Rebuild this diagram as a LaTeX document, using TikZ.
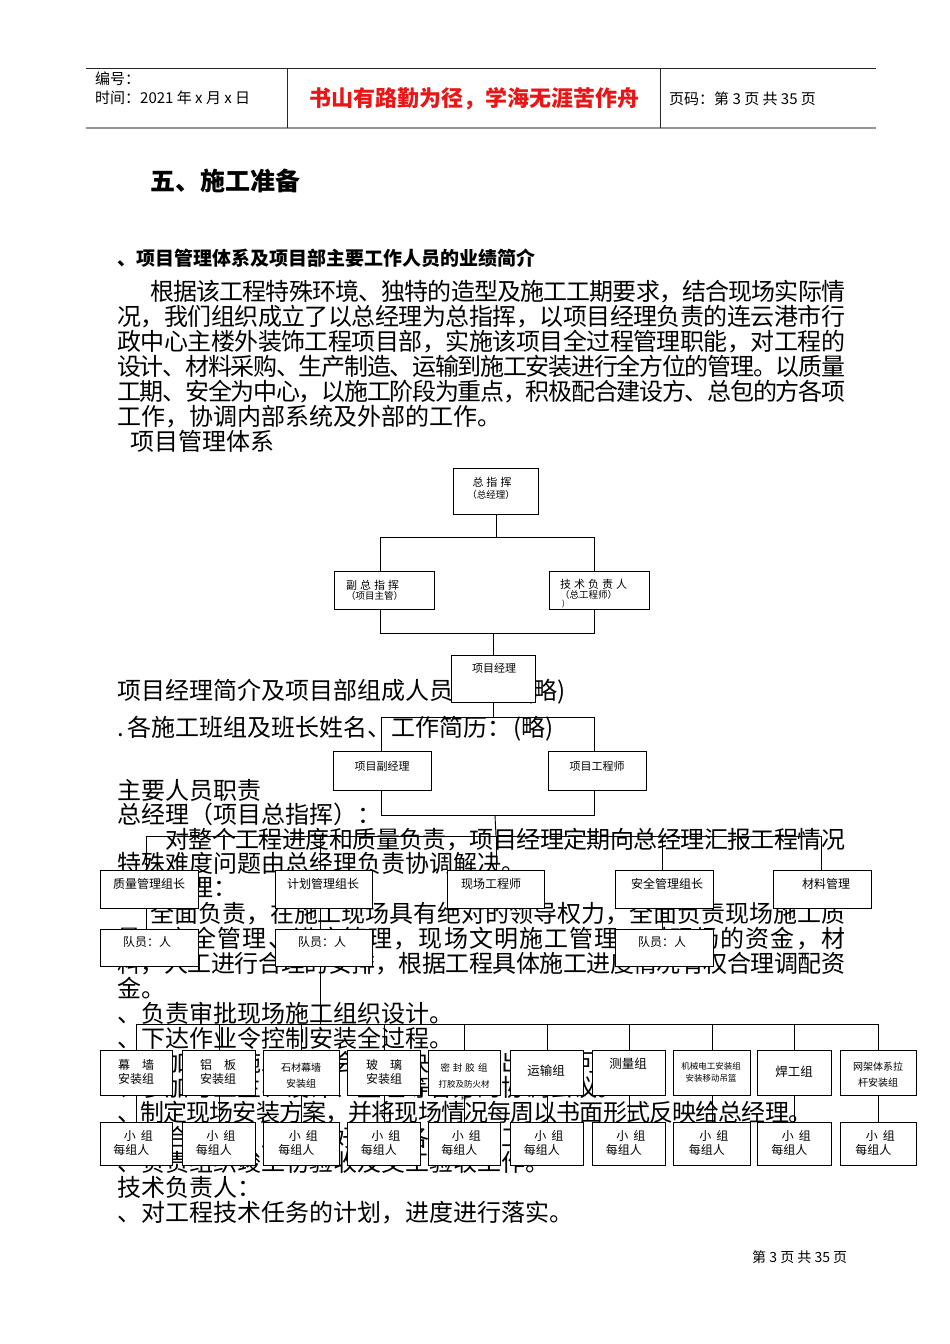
\documentclass[tikz,border=0pt]{standalone}
\usepackage{fontspec}
\setmainfont{Noto Sans CJK SC}
\definecolor{sred}{RGB}{232,22,22}
\definecolor{hgray}{RGB}{150,150,150}
\pgfdeclarelayer{textlayer}
\pgfdeclarelayer{linelayer}
\pgfsetlayers{textlayer,linelayer,main}
\makeatletter
\newcommand\jl[2]{\makebox[#1][s]{\let\jsep\relax\@tfor\jc:=#2\do{\jsep\jc\def\jsep{\hskip 0pt plus 1fil minus 2pt}}}}
\makeatother
\newcommand\fs[1]{\fontsize{#1}{#1}\selectfont}
\begin{document}
\begin{tikzpicture}[x=1pt,y=-1pt,
  box/.style={draw=black, fill=white, line width=0.9pt, inner sep=0pt, anchor=north west},
  ln/.style={draw=black, line width=0.9pt},
  bt/.style={inner sep=0pt, font=\fs{12}},
  tx/.style={inner sep=0pt, anchor=base west, font=\fs{24}},
  ht/.style={inner sep=0pt, anchor=base west, font=\fs{15}}]
\useasboundingbox (0,0) rectangle (950,1344);

% ---------- body text (behind the chart) ----------
\begin{pgfonlayer}{textlayer}
\fill[white] (0,0) rectangle (950,1344);
\node[tx, font=\bfseries\fs{25}] (title) at (150,190) {五、施工准备};
\node[tx, font=\bfseries\fs{19}] (head) at (117,265) {、项目管理体系及项目部主要工作人员的业绩简介};
\node[tx] (t01) at (150,300) {\jl{695pt}{根据该工程特殊环境、独特的造型及施工工期要求，结合现场实际情}};
\node[tx] (t02) at (117,325) {\jl{728pt}{况，我们组织成立了以总经理为总指挥，以项目经理负责的连云港市行}};
\node[tx] (t03) at (117,350) {\jl{728pt}{政中心主楼外装饰工程项目部，实施该项目全过程管理职能，对工程的}};
\node[tx] (t04) at (117,375) {\jl{728pt}{设计、材料采购、生产制造、运输到施工安装进行全方位的管理。以质量}};
\node[tx] (t05) at (117,400) {\jl{728pt}{工期、安全为中心，以施工阶段为重点，积极配合建设方、总包的方各项}};
\node[tx] (t06) at (117,425) {工作，协调内部系统及外部的工作。};
\node[tx] (t07) at (130,450) {项目管理体系};
\node[tx] (t08) at (117,699) {项目经理简介及项目部组成人员：\hspace{48pt}(略)};
\node[tx] (t09) at (117,736) {.\hspace{4pt}各施工班组及班长姓名、工作简历：\hspace{2pt}(略)};
\node[tx] (t10) at (117,799) {主要人员职责};
\node[tx] (t11) at (117,823) {总经理（项目总指挥）：};
\node[tx] (t12) at (165,848) {\jl{680pt}{对整个工程进度和质量负责，项目经理定期向总经理汇报工程情况}};
\node[tx] (t13) at (117,872) {特殊难度问题由总经理负责协调解决。};
\node[tx] (t14) at (117,896) {项目经理：};
\node[tx] (t15) at (150,922) {\jl{695pt}{全面负责，在施工现场具有绝对的领导权力，全面负责现场施工质}};
\node[tx] (t16) at (117,947) {\jl{728pt}{量、安全管理、进度管理，现场文明施工管理，对现场的资金，材}};
\node[tx] (t17) at (117,972) {\jl{728pt}{料，人工进行合理的安排，根据工程具体施工进度情况有权合理调配资}};
\node[tx] (t18) at (117,997) {金。};
\node[tx] (t19) at (117,1022) {、负责审批现场施工组织设计。};
\node[tx] (t20) at (117,1047) {、下达作业令控制安装全过程。};
\node[tx] (t21) at (117,1071) {、参加工程施工协调会，解决施工中出现的问题。};
\node[tx] (t22) at (117,1096) {、参加与业主、设计、监理等各方的协调会议。};
\node[tx] (t23) at (117,1121) {\jl{695pt}{、制定现场安装方案，并将现场情况每周以书面形式反映给总经理。}};
\node[tx] (t24) at (117,1146) {、配合业主、监理做好工程各项检查工作。};
\node[tx] (t25) at (117,1171) {、负责组织竣工初验收及交工验收工作。};
\node[tx] (t26) at (117,1196) {技术负责人：};
\node[tx] (t27) at (117,1221) {、对工程技术任务的计划，进度进行落实。};
\end{pgfonlayer}

% ---------- header ----------
\coordinate (hl) at (86,68); \coordinate (hr) at (876,68);
\coordinate (bl) at (86,128); \coordinate (br) at (876,128);
\coordinate (v1) at (287,68); \coordinate (v2) at (660,68);
\draw[line width=0.9pt, black!85] (hl) -- (hr);
\draw[line width=2pt, hgray] (bl) -- (br);
\draw[line width=0.9pt, black!85] (v1) -- (v1 |- bl);
\draw[line width=0.9pt, black!85] (v2) -- (v2 |- bl);
\node[ht] (h1) at (95,84) {编号：};
\node[ht] (h2) at (95,103) {时间：2021 年 x 月 x 日};
\node[inner sep=0pt, text=sred, font=\bfseries\fs{22}] (h3) at (474,99) {书山有路勤为径，学海无涯苦作舟};
\node[ht] (h4) at (669,104) {页码：第 3 页 共 35 页};
\node[inner sep=0pt, anchor=base west, font=\fs{14}] (foot) at (752,1262) {第 3 页 共 35 页};

% ---------- chart boxes ----------
\node[box, minimum width=85pt, minimum height=46pt] (zz) at (453,468) {};
\node[box, minimum width=100pt, minimum height=38pt] (fz) at (334,571) {};
\node[box, minimum width=100pt, minimum height=38pt] (js) at (549,571) {};
\node[box, minimum width=84pt, minimum height=47pt] (xm) at (451,655) {};
\node[box, minimum width=98pt, minimum height=39pt] (fj) at (333,751) {};
\node[box, minimum width=98pt, minimum height=39pt] (gc) at (548,751) {};
\node[box, minimum width=98pt, minimum height=38pt] (q1) at (100,870) {};
\node[box, minimum width=97pt, minimum height=38pt] (q2) at (275,870) {};
\node[box, minimum width=97pt, minimum height=38pt] (q3) at (447,870) {};
\node[box, minimum width=98pt, minimum height=38pt] (q4) at (615,870) {};
\node[box, minimum width=98pt, minimum height=38pt] (q5) at (773,870) {};
\node[box, minimum width=98pt, minimum height=37pt] (p1) at (100,929) {};
\node[box, minimum width=97pt, minimum height=37pt] (p2) at (275,929) {};
\node[box, minimum width=98pt, minimum height=37pt] (p4) at (615,929) {};
\foreach \n/\xl/\w in {1/100/72,2/182/73,3/263/76,4/347/73,5/428/72,6/510/73,7/592/73,8/673/77,9/757/74,10/840/76}{
  \node[box, minimum width=\w pt, minimum height=45pt] (r\n) at (\xl,1050) {};
  \node[box, minimum width=\w pt, minimum height=43pt] (s\n) at (\xl,1122) {};
  \node[bt] (sa\n) at ([xshift=2pt,yshift=-14pt]s\n.north) {小\hspace{5pt}组};
  \node[bt] (sb\n) at ([xshift=-5pt,yshift=-28pt]s\n.north) {每组人};
}

% ---------- box texts ----------
\node[bt, font=\fs{11}] (zt1) at (492,482) {总\hspace{3pt}指\hspace{3pt}挥};
\node[bt, font=\fs{9.5}] (zt2) at (491,495) {（总经理）};
\node[bt, font=\fs{11}, anchor=west] (ft1) at (346,585) {副\hspace{3pt}总\hspace{3pt}指\hspace{3pt}挥};
\node[bt, font=\fs{9.5}, anchor=west] (ft2) at (346,596) {（项目主管）};
\node[bt, font=\fs{11}, anchor=west] (jt1) at (560,584) {技\hspace{3pt}术\hspace{3pt}负\hspace{3pt}责\hspace{3pt}人};
\node[bt, font=\fs{9.5}, anchor=west] (jt2) at (560,595) {（总工程师）};
\node[bt, font=\fs{8}, anchor=west] (jt3) at (562,604) {)};
\node[bt, font=\fs{11}] (xt) at (494,668) {项目经理};
\node[bt, font=\fs{11}] (fjt) at (382,766) {项目副经理};
\node[bt, font=\fs{11}] (gct) at (597,766) {项目工程师};
\node[bt] (q1t) at (149,884) {质量管理组长};
\node[bt] (q2t) at (323,884) {计划管理组长};
\node[bt] (q3t) at (491,884) {现场工程师};
\node[bt] (q4t) at (667,884) {安全管理组长};
\node[bt] (q5t) at (826,884) {材料管理};
\node[bt] (p1t) at (147,942) {队员：人};
\node[bt] (p2t) at (322,942) {队员：人};
\node[bt] (p4t) at (662,942) {队员：人};
\node[bt] (r1a) at (136,1065) {幕\hspace{12pt}墙};
\node[bt] (r1b) at (136,1079) {安装组};
\node[bt] (r2a) at (218,1065) {铝\hspace{12pt}板};
\node[bt] (r2b) at (218,1079) {安装组};
\node[bt, font=\fs{10}] (r3a) at (301,1068) {石材幕墙};
\node[bt, font=\fs{10}] (r3b) at (301,1084) {安装组};
\node[bt] (r4a) at (384,1065) {玻\hspace{12pt}璃};
\node[bt] (r4b) at (384,1079) {安装组};
\node[bt, font=\fs{9.5}] (r5a) at (464,1068) {密\hspace{3pt}封\hspace{3pt}胶\hspace{3pt}组};
\node[bt, font=\fs{8.5}] (r5b) at (464,1084) {打胶及防火材};
\node[bt, font=\fs{6}] (r5c) at (464,1098) {料};
\node[bt, font=\fs{12.5}] (r6a) at (546,1071) {运输组};
\node[bt, font=\fs{12.5}] (r7a) at (628,1064) {测量组};
\node[bt, font=\fs{8.5}] (r8a) at (711,1066) {机械电工安装组};
\node[bt, font=\fs{8.5}] (r8b) at (711,1078) {安装移动吊篮};
\node[bt, font=\fs{12.5}] (r9a) at (794,1072) {焊工组};
\node[bt, font=\fs{10}] (r10a) at (878,1067) {网架体系拉};
\node[bt, font=\fs{10}] (r10b) at (878,1083) {杆安装组};

% ---------- connectors ----------
\begin{pgfonlayer}{linelayer}
\coordinate (a1) at (380,537); \coordinate (a2) at (594,537);
\draw[ln] (zz.south) -- (zz.south |- a1);
\draw[ln] (a1) -- (a2);
\draw[ln] (a1) -- (a1 |- fz.north);
\draw[ln] (a2) -- (a2 |- js.north);
\coordinate (b1) at (380,633); \coordinate (b2) at (594,633);
\draw[ln] (b1 |- fz.south) -- (b1) -- (b2) -- (b2 |- js.south);
\draw[ln] (xm.north) -- (xm.north |- b1);
\coordinate (c1) at (381,717); \coordinate (c2) at (594,717);
\draw[ln] (xm.south) -- (xm.south |- c1);
\draw[ln] (c1 |- fj.north) -- (c1) -- (c2) -- (c2 |- gc.north);
\coordinate (d1) at (381,815); \coordinate (d2) at (594,815);
\draw[ln] (d1 |- fj.south) -- (d1) -- (d2) -- (d2 |- gc.south);
\coordinate (e0) at (495,815);
\coordinate (e1) at (146,836); \coordinate (e2) at (320,836); \coordinate (e3) at (496,836);
\coordinate (e4) at (662,836); \coordinate (e5) at (821,836);
\draw[ln] (e0) -- (e3);
\draw[ln] (e1) -- (e5);
\draw[ln] (e1) -- (e1 |- q1.north);
\draw[ln] (e2) -- (e2 |- q2.north);
\draw[ln] (e3) -- (e3 |- q3.north);
\draw[ln] (e4) -- (e4 |- q4.north);
\draw[ln] (e5) -- (e5 |- q5.north);
\draw[ln] (e1 |- q1.south) -- (e1 |- p1.north);
\draw[ln] (e2 |- q2.south) -- (e2 |- p2.north);
\draw[ln] (e4 |- q4.south) -- (e4 |- p4.north);
\coordinate (f0) at (320,1024); \coordinate (fL) at (136,1024); \coordinate (fR) at (878,1024);
\draw[ln] (f0 |- p2.south) -- (f0);
\draw[ln] (fL) -- (fR);
\foreach \n in {1,...,10}{
  \draw[ln] (r\n.north |- fL) -- (r\n.north);
  \draw[ln] (r\n.south) -- (s\n.north);
}
\end{pgfonlayer}
\end{tikzpicture}
\end{document}
